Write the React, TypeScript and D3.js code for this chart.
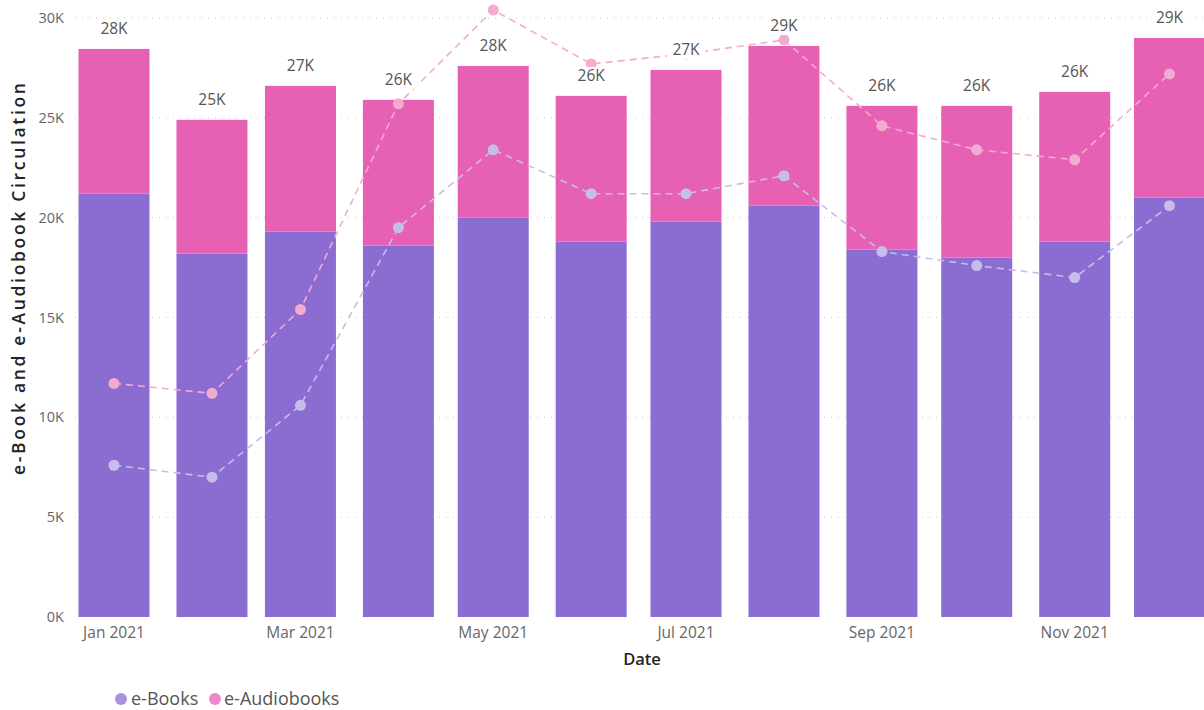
import React from "react";
import * as d3 from "d3";

const months = ["2021-01", "2021-02", "2021-03", "2021-04", "2021-05", "2021-06", "2021-07", "2021-08", "2021-09", "2021-10", "2021-11", "2021-12"];
const eBooks = [21200, 18200, 19300, 18600, 20000, 18800, 19800, 20600, 18400, 18000, 18800, 21000];
const eAudiobooks = [7250, 6700, 7300, 7300, 7600, 7300, 7600, 8000, 7200, 7600, 7500, 8000];
const audioLine = [11700, 11200, 15400, 25700, 30400, 27700, 28200, 28900, 24600, 23400, 22900, 27200];
const bookLine = [7600, 7000, 10600, 19500, 23400, 21200, 21200, 22100, 18300, 17600, 17000, 20600];
const yTicks = [0, 5000, 10000, 15000, 20000, 25000, 30000];
const xTickMonths = ["2021-01", "2021-03", "2021-05", "2021-07", "2021-09", "2021-11"];
const legendItems = ["e-Books", "e-Audiobooks"];

const W = 1204;
const H = 710;
const C_BOOK = "#8b6dd1";
const C_AUDIO = "#e660b4";
const C_BOOK_LINE = "#c6bdec";
const C_AUDIO_LINE = "#f4abd0";
const FONT = "'Segoe UI', 'Open Sans', 'Noto Sans', sans-serif";

const parse = (m: string) => {
  const [y, mo] = m.split("-").map(Number);
  return new Date(Date.UTC(y, mo - 1, 1));
};

export default function App() {
  const x = d3.scaleUtc().domain([parse("2021-01"), parse("2021-12")]).range([114, 1169.5]);
  const y = d3.scaleLinear().domain([0, 30000]).range([617, 18]);
  const barW = 71;
  const fmt = (v: number) => `${Math.round(v / 1000)}K`;

  const line = (vals: number[]) =>
    d3.line<number>().x((_, i) => x(parse(months[i]))).y((v) => y(v))(vals) || "";

  return (
    <svg width={W} height={H} style={{ position: "absolute", left: 0, top: 0, background: "#fff" }} fontFamily={FONT}>
      {/* gridlines */}
      {yTicks.filter((t) => t > 0).map((t) => (
        <line key={t} x1={75} x2={W} y1={y(t)} y2={y(t)} stroke="#c8c8c8" strokeWidth={1} strokeDasharray="1,6" />
      ))}
      {/* y tick labels */}
      {yTicks.map((t) => (
        <text key={t} x={64} y={y(t)} dy="0.35em" textAnchor="end" fontSize={14.5} fill="#666">
          {t / 1000}K
        </text>
      ))}
      {/* bars */}
      {months.map((m, i) => {
        const cx = x(parse(m));
        return (
          <g key={m}>
            <rect x={cx - barW / 2} y={y(eBooks[i])} width={barW} height={y(0) - y(eBooks[i])} fill={C_BOOK} />
            <rect x={cx - barW / 2} y={y(eBooks[i] + eAudiobooks[i])} width={barW} height={y(eBooks[i]) - y(eBooks[i] + eAudiobooks[i])} fill={C_AUDIO} />
          </g>
        );
      })}
      {/* lines */}
      <path d={line(audioLine)} fill="none" stroke={C_AUDIO_LINE} strokeWidth={1.6} strokeDasharray="7,5" />
      <path d={line(bookLine)} fill="none" stroke={C_BOOK_LINE} strokeWidth={1.6} strokeDasharray="7,5" />
      {months.map((m, i) => (
        <g key={m}>
          <circle cx={x(parse(m))} cy={y(audioLine[i])} r={5.5} fill={C_AUDIO_LINE} />
          <circle cx={x(parse(m))} cy={y(bookLine[i])} r={5.5} fill={C_BOOK_LINE} />
        </g>
      ))}
      {/* data labels */}
      {months.map((m, i) => {
        const cx = x(parse(m));
        const ty = y(eBooks[i] + eAudiobooks[i]) - 20;
        return (
          <g key={m}>
            <rect x={cx - 19} y={ty - 9} width={38} height={18} fill="#fff" />
            <text x={cx} y={ty} dy="0.35em" textAnchor="middle" fontSize={15.5} fill="#555">
              {fmt(eBooks[i] + eAudiobooks[i])}
            </text>
          </g>
        );
      })}
      {/* x tick labels */}
      {xTickMonths.map((m) => (
        <text key={m} x={x(parse(m))} y={633} dy="0.35em" textAnchor="middle" fontSize={15.5} fill="#666">
          {d3.utcFormat("%b %Y")(parse(m))}
        </text>
      ))}
      {/* axis titles */}
      <text x={642} y={659} dy="0.35em" textAnchor="middle" fontSize={16.5} fontWeight={600} fill="#252423" fontFamily="'Open Sans', sans-serif">
        Date
      </text>
      <text transform={`translate(19,${(83 + 475) / 2}) rotate(-90)`} textAnchor="middle" dy="0.35em" fontSize={17.5} fontWeight={600} fill="#252423" fontFamily="'Open Sans', sans-serif" textLength={392} lengthAdjust="spacing">
        e-Book and e-Audiobook Circulation
      </text>
      {/* legend */}
      <g>
        <circle cx={121} cy={699} r={6} fill={C_BOOK} opacity={0.75} />
        <text x={131} y={699} dy="0.35em" fontSize={18} fill="#555">{legendItems[0]}</text>
        <circle cx={215} cy={699} r={6} fill={C_AUDIO} opacity={0.75} />
        <text x={224} y={699} dy="0.35em" fontSize={18} fill="#555">{legendItems[1]}</text>
      </g>
    </svg>
  );
}
